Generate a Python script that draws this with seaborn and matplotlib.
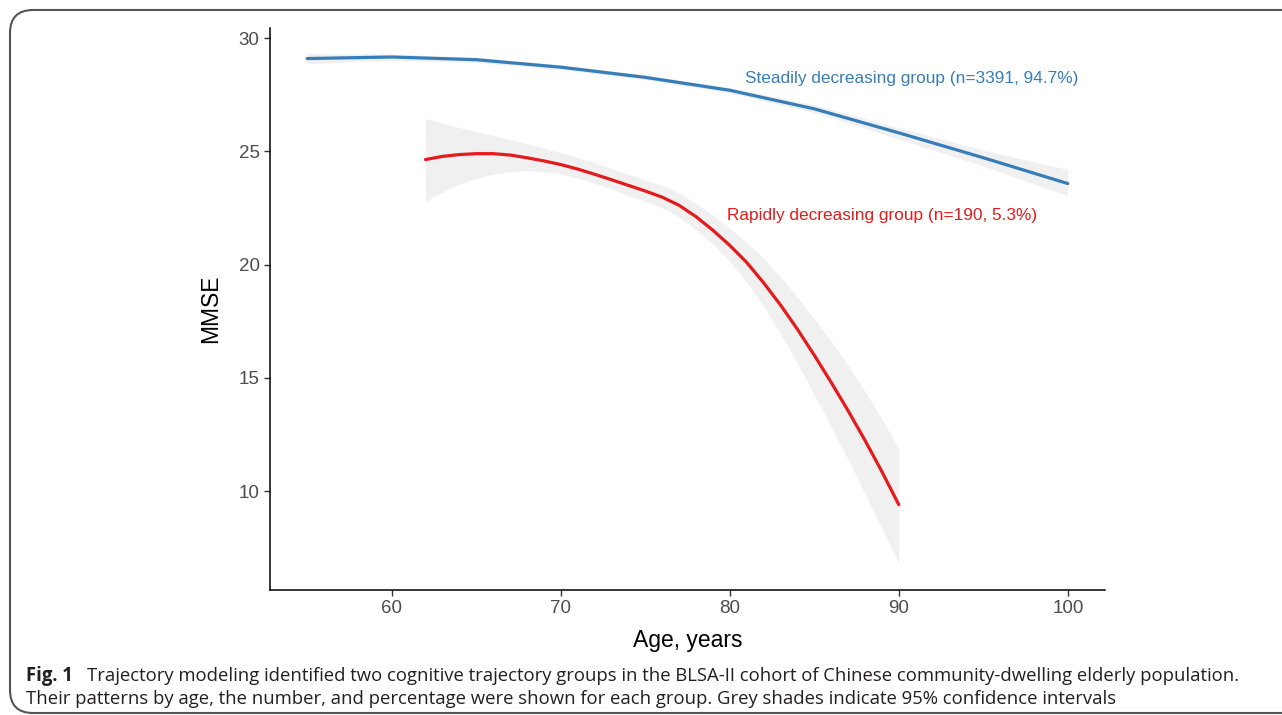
import numpy as np
import pandas as pd
import matplotlib
matplotlib.use("Agg")
import matplotlib.pyplot as plt
import seaborn as sns
from matplotlib.patches import FancyBboxPatch

# 稳定下降组 (steadily decreasing)
steady_age = [55, 60, 65, 70, 75, 80, 85, 90, 95, 100]
steady_mmse = [29.10, 29.17, 29.05, 28.72, 28.27, 27.70, 26.88, 25.82, 24.72, 23.58]
steady_low = [28.88, 29.02, 28.93, 28.61, 28.16, 27.58, 26.72, 25.55, 24.35, 23.05]
steady_high = [29.32, 29.30, 29.16, 28.83, 28.38, 27.82, 27.05, 26.05, 25.05, 24.20]

# 快速下降组 (rapidly decreasing)
rapid_age = [62, 63, 64, 65, 66, 67, 68, 69, 70, 71, 72, 73, 74, 75, 76, 77, 78,
             79, 80, 81, 82, 83, 84, 85, 86, 87, 88, 89, 90]
rapid_mmse = [24.64, 24.78, 24.86, 24.90, 24.90, 24.84, 24.72, 24.58, 24.42, 24.22,
              23.99, 23.75, 23.50, 23.25, 22.98, 22.62, 22.12, 21.52, 20.85, 20.10,
              19.20, 18.22, 17.15, 16.00, 14.80, 13.55, 12.24, 10.86, 9.40]
rapid_low = [22.80, 23.20, 23.55, 23.80, 24.00, 24.10, 24.15, 24.10, 24.00, 23.82,
             23.60, 23.35, 23.05, 22.80, 22.50, 22.10, 21.55, 20.90, 20.15, 19.25,
             18.15, 16.95, 15.65, 14.25, 12.85, 11.40, 9.90, 8.35, 6.81]
rapid_high = [26.45, 26.25, 26.05, 25.88, 25.70, 25.52, 25.35, 25.15, 24.95, 24.72,
              24.50, 24.25, 24.00, 23.75, 23.50, 23.15, 22.70, 22.18, 21.60, 20.98,
              20.28, 19.45, 18.55, 17.60, 16.62, 15.55, 14.40, 13.18, 11.88]

groups = ["Steadily decreasing group (n=3391, 94.7%)",
          "Rapidly decreasing group (n=190, 5.3%)"]
colors = ["#377EB8", "#E41A1C"]

caption_bold = "Fig. 1"
caption_1 = ("Trajectory modeling identified two cognitive trajectory groups in the BLSA-II cohort "
             "of Chinese community-dwelling elderly population.")
caption_2 = ("Their patterns by age, the number, and percentage were shown for each group. "
             "Grey shades indicate 95% confidence intervals")

df = pd.concat([
    pd.DataFrame({"age": steady_age, "mmse": steady_mmse, "group": groups[0]}),
    pd.DataFrame({"age": rapid_age, "mmse": rapid_mmse, "group": groups[1]}),
])

sns.set_theme(style="ticks")
plt.rcParams['font.family'] = ['Liberation Sans', 'DejaVu Sans']

W, H = 1282, 715
fig = plt.figure(figsize=(W / 100, H / 100), dpi=100)
ax = fig.add_axes([270 / W, 1 - 590 / H, (1105 - 270) / W, (590 - 28) / H])

# 置信区间
ax.fill_between(steady_age, steady_low, steady_high, color="#F0F0F0", lw=0, zorder=1)
ax.fill_between(rapid_age, rapid_low, rapid_high, color="#F0F0F0", lw=0, zorder=1)

sns.lineplot(data=df, x="age", y="mmse", hue="group", palette=colors,
             linewidth=2.3, legend=False, ax=ax, zorder=2)

ax.text(90.75, 28.22, groups[0], color=colors[0], fontsize=12.4, ha="center", va="center")
ax.text(89.0, 22.19, groups[1], color=colors[1], fontsize=12.4, ha="center", va="center")

ax.set_xlim(52.8, 102.2)
ax.set_ylim(5.63, 30.45)
ax.set_xticks([60, 70, 80, 90, 100])
ax.set_yticks([10, 15, 20, 25, 30])
ax.tick_params(labelsize=13.5, labelcolor="#4D4D4D", color="#333333", length=4, width=1)
ax.set_xlabel("Age, years", fontsize=16.5, color="black", labelpad=8)
ax.set_ylabel("MMSE", fontsize=16.5, color="black", labelpad=12)
for s in ["left", "bottom"]:
    ax.spines[s].set_color("black")
    ax.spines[s].set_linewidth(1.1)
sns.despine(ax=ax)

# 外框
box = FancyBboxPatch((10 / W, 1 - 713 / H), 1400 / W, 703 / H,
                     boxstyle="round,pad=0,rounding_size=0.018",
                     transform=fig.transFigure, fill=False, ec="#555555", lw=1.5,
                     mutation_aspect=W / H)
fig.patches.append(box)

# 图注
cap_font = ['Open Sans', 'DejaVu Sans']
t_bold = fig.text(26 / W, 1 - 676 / H, caption_bold, fontsize=13, fontweight="bold",
                  va="center", family=cap_font, color="#231F20")
t1 = fig.text(87 / W, 1 - 676 / H, caption_1, fontsize=13, va="center",
              family=cap_font, color="#231F20")
t2 = fig.text(26 / W, 1 - 699 / H, caption_2, fontsize=13, va="center",
              family=cap_font, color="#231F20")

# 按参考宽度调整字号
r = fig.canvas.get_renderer()
w1 = t1.get_window_extent(r).width
size = 13 * (1238 - 87) / w1
for t in (t_bold, t1, t2):
    t.set_fontsize(size)

fig.savefig("out.png", dpi=100)
plt.close()
